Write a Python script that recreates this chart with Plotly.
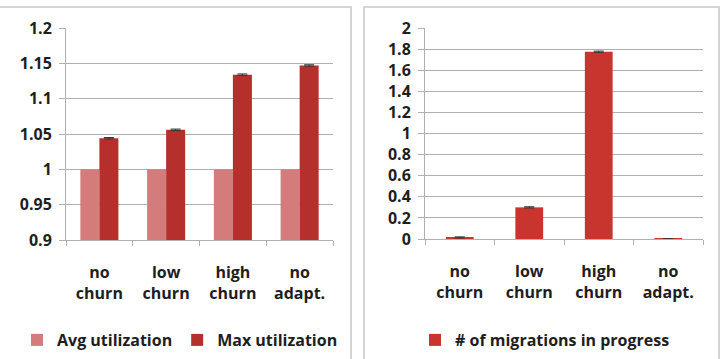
import plotly.graph_objects as go

categories = ["no<br>churn", "low<br>churn", "high<br>churn", "no<br>adapt."]
avg_util = [1.0, 1.0, 1.0, 1.0]
max_util = [1.044, 1.056, 1.134, 1.147]
max_err = [0.001, 0.001, 0.001, 0.001]
migrations = [0.015, 0.30, 1.775, 0.001]
mig_err = [0.005, 0.006, 0.006, 0.0005]

W, H = 721, 359
FONT = "Open Sans"
TXT = "#1e1e1e"
FS = 16

def px(x):
    return x / W

def py(y):
    return (H - y) / H

fig = go.Figure()

fig.add_trace(go.Bar(
    x=categories, y=avg_util, name="Avg utilization",
    marker=dict(color="#d47c7c", line=dict(width=0)),
    xaxis="x", yaxis="y", legend="legend",
))
fig.add_trace(go.Bar(
    x=categories, y=max_util, name="Max utilization",
    marker=dict(color="#b52f2d", line=dict(width=0)),
    error_y=dict(type="data", array=max_err, color="#333", thickness=1, width=5),
    xaxis="x", yaxis="y", legend="legend",
))
fig.add_trace(go.Bar(
    x=categories, y=migrations, name="# of migrations in progress",
    marker=dict(color="#c8352f", line=dict(width=0)),
    error_y=dict(type="data", array=mig_err, color="#333", thickness=1, width=5),
    xaxis="x2", yaxis="y2", legend="legend2", width=0.4,
))

axis_common = dict(
    showline=True, linecolor="#b0b0b0", linewidth=1, automargin=False,
    tickfont=dict(family=FONT, size=FS, color=TXT, weight="bold"),
)
xaxis_common = dict(ticks="outside", tickson="boundaries", ticklen=5, tickcolor="#b0b0b0",
                    showgrid=False, ticklabelstandoff=18, **axis_common)
yaxis_common = dict(ticks="outside", ticklen=6, tickcolor="#b0b0b0", ticklabelstandoff=4,
                    showgrid=True, gridcolor="#b0b0b0", gridwidth=1, zeroline=False,
                    **axis_common)

fig.update_layout(
    width=W, height=H,
    margin=dict(l=0, r=0, t=0, b=0, autoexpand=False),
    paper_bgcolor="white", plot_bgcolor="white",
    barmode="group", bargap=0.43, bargroupgap=0,
    font=dict(family=FONT, color=TXT),
    xaxis=dict(domain=[px(66), px(333)], anchor="y", **xaxis_common),
    yaxis=dict(domain=[py(240), py(28)], anchor="x", range=[0.9, 1.2], dtick=0.05,
               **yaxis_common),
    xaxis2=dict(domain=[px(425), px(703)], anchor="y2", **xaxis_common),
    yaxis2=dict(domain=[py(239), py(28)], anchor="x2", range=[0, 2], dtick=0.2,
                **yaxis_common),
    legend=dict(orientation="h", x=px(180), xanchor="center", y=py(340), yanchor="middle",
                font=dict(family=FONT, size=FS, color=TXT, weight="bold"),
                itemwidth=30, bgcolor="rgba(0,0,0,0)"),
    legend2=dict(orientation="h", x=px(545), xanchor="center", y=py(340), yanchor="middle",
                 font=dict(family=FONT, size=FS, color=TXT, weight="bold"),
                 itemwidth=30, bgcolor="rgba(0,0,0,0)"),
    shapes=[
        dict(type="path", xref="paper", yref="paper",
             path=f"M {px(-5)} {py(7)} L {px(351)} {py(7)} L {px(351)} {py(365)}",
             line=dict(color="#c8c8c8", width=1.5)),
        dict(type="path", xref="paper", yref="paper",
             path=f"M {px(364)} {py(365)} L {px(364)} {py(7)} L {px(719)} {py(7)} L {px(719)} {py(365)}",
             line=dict(color="#c8c8c8", width=1.5)),
    ],
)

fig.write_html("out.html")
